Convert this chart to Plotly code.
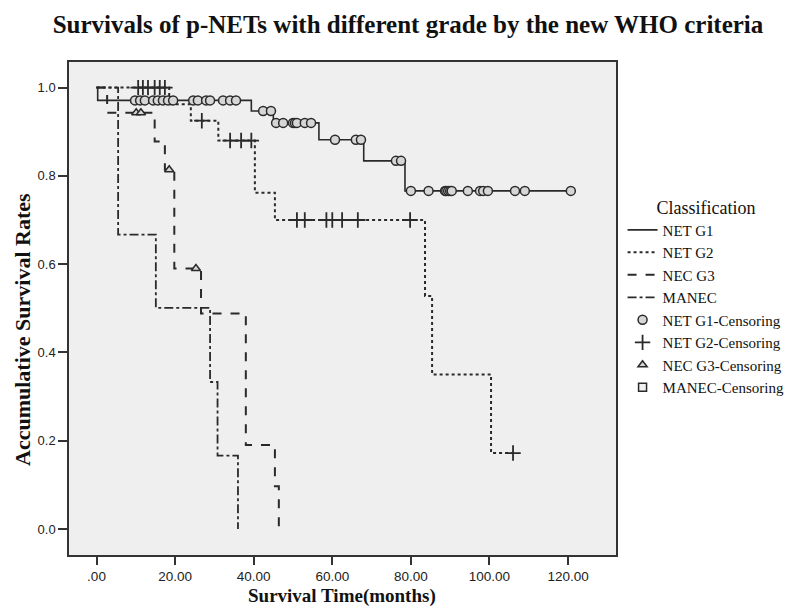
import plotly.graph_objects as go
import numpy as np

# ---------------- data ----------------
g1_times = [0.3, 39.4, 45.0, 56.6, 68.0, 78.5]
g1_surv = [0.971, 0.947, 0.920, 0.882, 0.834, 0.766]
g1_end = 120.7
g1_cens = [9.8, 11.1, 12.3, 14.4, 15.6, 16.9, 18.2, 19.5, 24.6, 25.8, 27.9, 28.9,
           32.2, 34.0, 35.5, 42.4, 44.4, 45.7, 47.5, 50.0, 50.5, 51.0, 53.0, 54.6,
           60.7, 66.0, 67.3, 76.2, 77.5, 80.0, 84.5, 88.7, 89.0, 89.5, 90.0, 90.4,
           94.5, 97.6, 98.4, 99.6, 106.5, 109.0, 120.7]

g2_times = [18.5, 24.0, 31.0, 40.3, 45.4, 83.6, 85.4, 100.4]
g2_surv = [0.962, 0.925, 0.880, 0.762, 0.700, 0.528, 0.350, 0.172]
g2_end = 106.0
g2_cens = [10.6, 11.8, 13.1, 14.8, 16.1, 17.4, 26.8, 34.0, 36.8, 39.4, 51.0, 53.0,
           58.5, 60.0, 62.5, 66.5, 79.8, 106.0]

g3_times = [2.7, 14.8, 17.4, 19.8, 26.6, 38.0, 45.4, 46.4]
g3_surv = [0.943, 0.878, 0.814, 0.590, 0.488, 0.190, 0.097, 0.0]
g3_end = 46.4
g3_cens = [10.1, 11.3, 18.5, 25.3]

mn_times = [5.5, 15.1, 28.9, 30.8, 36.0]
mn_surv = [0.667, 0.501, 0.333, 0.166, 0.0]
mn_end = 36.0
mn_cens = []

x_tickvals = [0, 20, 40, 60, 80, 100, 120]
x_ticktext = [".00", "20.00", "40.00", "60.00", "80.00", "100.00", "120.00"]
y_tickvals = [0.0, 0.2, 0.4, 0.6, 0.8, 1.0]
y_ticktext = ["0.0", "0.2", "0.4", "0.6", "0.8", "1.0"]

TITLE = "Survivals of p-NETs with different grade by the new WHO criteria"
XTITLE = "Survival Time(months)"
YTITLE = "Accumulative Survival Rates"
# -----------------------------------------------------------------

SERIF = "Liberation Serif, Times New Roman, serif"
SANS = "Liberation Sans, Arial, sans-serif"
INK = "#2a2a2a"


def step_xy(times, surv, end):
    xs = [0.0] + list(times)
    ys = [1.0] + list(surv)
    if end > xs[-1]:
        xs.append(end)
        ys.append(ys[-1])
    return xs, ys


def surv_at(times, surv, t):
    s = 1.0
    for tt, ss in zip(times, surv):
        if tt <= t:
            s = ss
    return s


fig = go.Figure()

groups = [
    ("NET G1", g1_times, g1_surv, g1_end, "solid", 1.6),
    ("NET G2", g2_times, g2_surv, g2_end, "dot", 2.0),
    ("NEC G3", g3_times, g3_surv, g3_end, "dash", 2.0),
    ("MANEC", mn_times, mn_surv, mn_end, "dashdot", 1.8),
]
for name, t, s, e, dash, w in groups:
    xs, ys = step_xy(t, s, e)
    fig.add_trace(go.Scatter(x=xs, y=ys, mode="lines", name=name,
                             line=dict(color=INK, width=w, dash=dash, shape="hv")))

cens = [
    ("NET G1-Censoring", g1_cens, g1_times, g1_surv,
     dict(symbol="circle", size=9, color="#d6d6d6", line=dict(color=INK, width=1.5))),
    ("NET G2-Censoring", g2_cens, g2_times, g2_surv,
     dict(symbol="cross-thin", size=11, color=INK, line=dict(color=INK, width=1.8))),
    ("NEC G3-Censoring", g3_cens, g3_times, g3_surv,
     dict(symbol="triangle-up", size=8, color="#d6d6d6", line=dict(color=INK, width=1.5))),
    ("MANEC-Censoring", mn_cens, mn_times, mn_surv,
     dict(symbol="square", size=8, color="#f0f0f0", line=dict(color=INK, width=1.5))),
]
for name, ct, t, s, mk in cens:
    cy = [surv_at(t, s, c) for c in ct]
    fig.add_trace(go.Scatter(x=ct if ct else [None], y=cy if cy else [None],
                             mode="markers", name=name, marker=mk))

fig.update_layout(
    width=800, height=609,
    margin=dict(l=61, r=192, t=54, b=62),
    paper_bgcolor="white",
    plot_bgcolor="#efefef",
    title=dict(text="<b>" + TITLE + "</b>", x=0.5, xanchor="center",
               y=1 - 16 / 609, yanchor="middle",
               font=dict(family=SERIF, size=25, color="#111")),
    showlegend=True,
    legend=dict(x=1.012, xanchor="left", y=0.74, yanchor="top",
                bgcolor="rgba(0,0,0,0)",
                font=dict(family=SERIF, size=15, color="#111"),
                title=dict(text="Classification", side="top center",
                           font=dict(family=SERIF, size=18, color="#111")),
                tracegroupgap=0, itemwidth=30),
    annotations=[
        dict(text="<b>" + YTITLE + "</b>", xref="paper", yref="paper",
             x=(15 - 61) / 547, y=(547 - 322) / 493, textangle=-90,
             showarrow=False, xanchor="center", yanchor="middle",
             font=dict(family=SERIF, size=22, color="#111")),
        dict(text="<b>" + XTITLE + "</b>", xref="paper", yref="paper",
             x=(334 - 61) / 547, y=(547 - 588) / 493,
             showarrow=False, xanchor="center", yanchor="middle",
             font=dict(family=SERIF, size=19, color="#111")),
    ],
)

fig.update_xaxes(range=[-7.0, 132.2], tickvals=x_tickvals, ticktext=x_ticktext,
                 showgrid=False, zeroline=False, showline=True, linecolor="#333",
                 linewidth=1.5, mirror=True, ticks="outside", ticklen=8,
                 tickcolor="#333", tickwidth=1.5,
                 tickfont=dict(family=SANS, size=13.5, color="#222"))
fig.update_yaxes(range=[-0.059, 1.058], tickvals=y_tickvals, ticktext=y_ticktext,
                 showgrid=False, zeroline=False, showline=True, linecolor="#333",
                 linewidth=1.5, mirror=True, ticks="outside", ticklen=9,
                 tickcolor="#333", tickwidth=1.5,
                 tickfont=dict(family=SANS, size=13, color="#222"))

fig.write_html("out.html")
